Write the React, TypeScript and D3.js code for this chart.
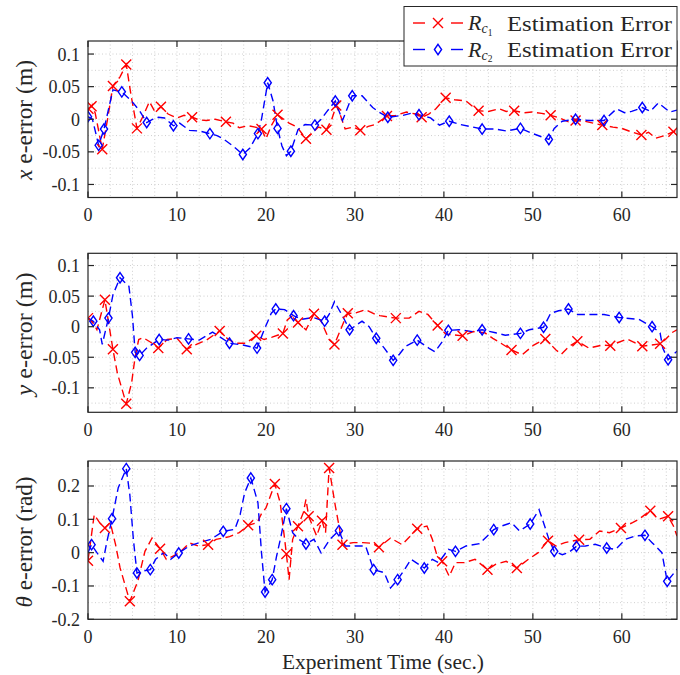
import React from 'react';
import * as d3 from 'd3';

type Pt = [number, number, number]; // [time, value, markerFlag]

// ---------- x e-error (m) ----------
const xErrRc1: Pt[] = [
  [0, 0.012, 0], [0.05, 0.016, 1], [0.4, 0.02, 1], [0.8, 0.01, 0], [1.6, -0.046, 1], [2.2, 0.0, 0], [2.8, 0.051, 1],
  [3.6, 0.065, 0], [4.3, 0.084, 1], [4.8, 0.04, 0], [5.5, -0.014, 1], [6.2, 0.005, 0], [6.9, 0.027, 0], [7.5, 0.012, 0],
  [8.2, 0.019, 1], [9.0, 0.008, 0], [10.0, 0.002, 0], [10.8, 0.006, 0], [11.7, 0.003, 1], [12.5, -0.001, 0],
  [13.3, -0.002, 0], [14.3, 0.0, 0], [15.5, -0.004, 1], [16.3, -0.006, 0], [17.0, -0.013, 0], [18.0, -0.01, 0],
  [18.8, -0.012, 0], [19.5, -0.015, 1], [20.0, -0.03, 0], [20.6, -0.01, 0], [21.3, 0.007, 1], [22.0, 0.0, 0],
  [22.6, -0.006, 0], [23.5, -0.012, 0], [24.5, -0.03, 1], [25.3, -0.02, 0], [25.9, -0.012, 0], [26.8, -0.016, 1],
  [27.4, 0.0, 0], [27.9, 0.021, 1], [28.4, 0.005, 0], [28.9, -0.015, 0], [29.8, -0.012, 0], [30.6, -0.017, 1],
  [31.5, -0.011, 0], [32.3, -0.008, 0], [33.6, 0.005, 1], [34.6, 0.006, 0], [35.8, 0.011, 0], [36.8, 0.008, 0],
  [37.5, 0.003, 1], [38.3, 0.008, 0], [39.1, 0.016, 0], [40.2, 0.033, 1], [41.2, 0.03, 0], [42.5, 0.028, 0],
  [43.2, 0.02, 0], [43.9, 0.013, 1], [45.0, 0.012, 0], [46.2, 0.016, 0], [47.0, 0.012, 0], [47.9, 0.013, 1],
  [49.0, 0.01, 0], [49.9, 0.011, 0], [51.0, 0.009, 0], [52.0, 0.006, 1], [53.0, 0.002, 0], [54.0, -0.004, 0],
  [54.8, -0.002, 1], [55.8, -0.003, 0], [56.8, -0.006, 0], [57.8, -0.009, 1], [59.0, -0.012, 0], [60.0, -0.014, 0],
  [61.2, -0.02, 0], [62.2, -0.024, 1], [63.0, -0.02, 0], [63.8, -0.029, 0], [64.8, -0.025, 0], [65.8, -0.019, 1],
  [66.2, -0.018, 0],
];
const xErrRc2: Pt[] = [
  [0, 0.004, 1], [0.5, 0.0, 0], [1.2, -0.04, 1], [1.8, -0.015, 1], [2.8, 0.045, 0], [3.8, 0.042, 1], [4.9, 0.028, 0],
  [5.8, 0.013, 0], [6.6, -0.005, 1], [7.3, 0.0, 0], [7.9, 0.003, 0], [8.6, 0.002, 0], [9.6, -0.01, 1], [10.3, -0.006, 0],
  [11.4, -0.017, 0], [12.5, -0.018, 0], [13.7, -0.022, 1], [14.5, -0.025, 0], [15.2, -0.03, 0], [16.3, -0.041, 0],
  [17.4, -0.054, 1], [18.2, -0.044, 0], [19.1, -0.022, 1], [19.5, 0.0, 0], [20.2, 0.056, 1], [20.8, 0.028, 0],
  [21.3, -0.014, 1], [21.8, -0.041, 0], [22.3, -0.056, 0], [22.8, -0.049, 1], [23.6, -0.016, 0], [24.4, -0.008, 0],
  [25.5, -0.009, 1], [26.2, 0.0, 0], [26.8, 0.011, 0], [27.8, 0.028, 1], [28.6, -0.002, 0], [29.7, 0.036, 1],
  [30.8, 0.036, 0], [31.6, 0.024, 0], [32.0, 0.018, 0], [32.7, 0.011, 0], [33.7, 0.003, 1], [35.4, 0.006, 0],
  [36.3, 0.009, 0], [37.2, 0.007, 1], [38.5, 0.002, 0], [39.5, -0.009, 0], [40.6, -0.003, 1], [41.8, -0.008, 0],
  [42.9, -0.011, 0], [44.3, -0.015, 1], [45.8, -0.015, 0], [47.0, -0.018, 0], [48.6, -0.014, 1], [50.0, -0.022, 0],
  [51.8, -0.031, 1], [52.4, -0.014, 0], [53.3, -0.003, 0], [54.8, 0.0, 1], [56.3, -0.002, 0], [58.0, -0.002, 1],
  [59.4, 0.016, 0], [60.3, 0.01, 0], [61.1, 0.012, 0], [62.3, 0.018, 1], [63.2, 0.012, 0], [64.1, 0.025, 0],
  [65.4, 0.011, 0], [66.2, 0.014, 0],
];

// ---------- y e-error (m) ----------
const yErrRc1: Pt[] = [
  [0, 0.014, 1], [0.5, 0.008, 0], [1.0, -0.005, 0], [1.9, 0.044, 1], [2.8, -0.037, 1], [3.3, -0.076, 0],
  [4.3, -0.126, 1], [4.9, -0.092, 0], [5.3, -0.049, 0], [5.7, -0.021, 0], [6.2, -0.018, 0], [7.0, -0.025, 0],
  [7.9, -0.035, 1], [8.9, -0.021, 0], [10.0, -0.019, 0], [11.1, -0.037, 1], [12.0, -0.03, 0], [13.3, -0.022, 0],
  [14.8, -0.007, 1], [15.7, -0.02, 0], [16.6, -0.027, 0], [17.7, -0.027, 0], [18.9, -0.015, 1], [19.8, -0.021, 0],
  [20.7, -0.017, 0], [21.9, -0.011, 1], [22.4, 0.011, 0], [23.0, 0.018, 0], [23.6, 0.007, 1], [24.5, -0.005, 0],
  [25.4, 0.021, 1], [26.2, 0.009, 0], [27.1, -0.021, 0], [27.7, -0.029, 1], [28.7, 0.006, 0], [29.2, 0.022, 1],
  [30.0, 0.022, 0], [31.2, 0.028, 0], [32.3, 0.02, 0], [32.8, 0.018, 0], [34.6, 0.014, 1], [36.1, 0.014, 0],
  [37.2, 0.025, 0], [38.2, 0.02, 0], [39.3, 0.002, 1], [40.2, -0.012, 0], [42.1, -0.015, 1], [43.3, -0.008, 0],
  [44.6, -0.01, 0], [45.5, -0.019, 0], [46.4, -0.027, 0], [47.6, -0.038, 1], [48.8, -0.046, 0], [50.1, -0.03, 0],
  [51.4, -0.02, 1], [52.6, -0.038, 0], [53.2, -0.045, 0], [54.1, -0.032, 0], [55.0, -0.024, 1], [56.3, -0.035, 0],
  [57.8, -0.03, 0], [58.7, -0.031, 1], [60.6, -0.02, 0], [62.3, -0.032, 1], [63.3, -0.03, 0], [64.3, -0.028, 1],
  [64.9, -0.021, 0], [65.6, -0.01, 0], [66.2, -0.005, 0],
];
const yErrRc2: Pt[] = [
  [0, 0.014, 0], [0.6, 0.009, 1], [1.3, -0.005, 0], [1.6, -0.029, 0], [2.3, 0.014, 1], [2.8, 0.052, 0],
  [3.6, 0.08, 1], [4.6, 0.066, 0], [5.0, 0.017, 0], [5.3, -0.042, 1], [5.8, -0.047, 1], [6.6, -0.035, 0],
  [8.0, -0.021, 1], [9.0, -0.022, 0], [10.0, -0.018, 0], [11.3, -0.02, 1], [12.5, -0.022, 0], [14.0, -0.009, 0],
  [15.9, -0.027, 1], [17.4, -0.03, 0], [19.0, -0.035, 1], [19.8, -0.005, 0], [20.6, 0.022, 0], [21.1, 0.029, 1],
  [22.1, 0.028, 0], [23.1, 0.018, 1], [24.0, 0.012, 0], [25.3, 0.015, 0], [26.6, 0.009, 1], [27.1, 0.02, 0],
  [27.7, 0.041, 0], [28.7, 0.015, 0], [29.4, -0.005, 1], [30.8, 0.009, 0], [31.6, 0.0, 0], [32.4, -0.019, 1],
  [33.3, -0.035, 0], [34.3, -0.055, 1], [35.0, -0.045, 0], [35.7, -0.032, 0], [37.0, -0.022, 1], [38.3, -0.035, 0],
  [39.0, -0.041, 0], [39.8, -0.025, 0], [40.5, -0.006, 1], [41.7, -0.005, 0], [43.2, -0.008, 0], [44.3, -0.005, 1],
  [45.8, -0.01, 0], [46.9, -0.014, 0], [48.6, -0.011, 1], [49.6, -0.005, 0], [51.2, -0.001, 1], [52.0, 0.022, 0],
  [52.9, 0.026, 0], [54.0, 0.029, 1], [55.0, 0.02, 0], [56.7, 0.02, 0], [58.0, 0.02, 0], [59.7, 0.015, 1],
  [61.9, 0.012, 0], [63.4, 0.0, 1], [64.3, -0.01, 0], [64.6, -0.035, 0], [65.2, -0.054, 1], [66.2, -0.04, 0],
];

// ---------- theta e-error (rad) ----------
const thErrRc1: Pt[] = [
  [0, -0.024, 1], [0.7, 0.114, 0], [1.3, 0.09, 0], [1.9, 0.074, 1], [2.5, 0.09, 0], [3.1, 0.024, 0], [3.6, -0.045, 0],
  [4.7, -0.146, 1], [5.6, -0.086, 0], [6.4, 0.004, 0], [7.2, 0.044, 0], [8.1, 0.012, 1], [8.8, -0.02, 0],
  [9.6, -0.01, 0], [10.3, 0.0, 0], [11.4, 0.029, 0], [12.4, 0.02, 0], [13.5, 0.024, 1], [14.4, 0.04, 0],
  [15.9, 0.048, 0], [17.0, 0.06, 0], [18.0, 0.082, 1], [19.0, 0.09, 0], [19.5, 0.117, 0], [20.0, 0.134, 0],
  [21.0, 0.206, 1], [21.6, 0.15, 0], [22.3, -0.004, 1], [22.6, -0.081, 0], [23.0, 0.04, 0], [23.6, 0.079, 1],
  [24.2, 0.12, 0], [24.5, 0.16, 0], [24.8, 0.109, 1], [25.7, 0.05, 0], [26.3, 0.096, 1], [26.7, 0.06, 0],
  [27.1, 0.254, 1], [27.8, 0.14, 0], [28.6, 0.024, 1], [29.8, 0.03, 0], [30.9, 0.03, 0], [32.0, 0.028, 0],
  [32.7, 0.016, 1], [34.0, 0.044, 0], [35.3, 0.024, 0], [37.0, 0.072, 1], [38.1, 0.08, 0], [38.7, 0.04, 0],
  [39.2, -0.006, 0], [39.8, -0.026, 1], [40.6, -0.071, 0], [41.3, -0.03, 0], [42.3, -0.03, 0], [43.5, -0.02, 0],
  [44.9, -0.051, 1], [45.8, -0.035, 0], [47.0, -0.026, 0], [48.2, -0.046, 1], [49.5, -0.02, 0], [50.6, 0.0, 0],
  [51.7, 0.036, 1], [52.6, 0.02, 0], [53.6, 0.03, 0], [55.2, 0.039, 1], [56.4, 0.04, 0], [57.5, 0.065, 0],
  [58.6, 0.06, 0], [59.9, 0.074, 1], [61.2, 0.09, 0], [61.9, 0.1, 0], [63.2, 0.126, 1], [64.1, 0.1, 0],
  [65.2, 0.109, 1], [65.8, 0.08, 0], [66.2, 0.05, 0],
];
const thErrRc2: Pt[] = [
  [0, 0.0, 0], [0.4, 0.024, 1], [1.0, 0.0, 0], [1.7, -0.026, 0], [2.1, 0.03, 0], [2.7, 0.102, 1], [3.4, 0.195, 0],
  [4.3, 0.252, 1], [4.7, 0.174, 0], [5.1, 0.04, 0], [5.5, -0.061, 1], [6.2, -0.055, 0], [7.0, -0.051, 1],
  [7.6, -0.02, 0], [8.5, 0.0, 0], [9.3, -0.02, 0], [10.2, -0.001, 1], [11.4, 0.02, 0], [12.5, 0.03, 0],
  [13.8, 0.04, 0], [15.2, 0.064, 1], [16.5, 0.07, 0], [17.1, 0.114, 0], [17.6, 0.179, 0], [18.3, 0.224, 1],
  [19.1, 0.15, 0], [19.5, 0.0, 0], [19.9, -0.118, 1], [20.7, -0.081, 1], [21.2, -0.01, 0], [21.7, 0.05, 0],
  [22.3, 0.132, 1], [23.0, 0.06, 0], [23.7, 0.04, 0], [24.5, 0.026, 1], [25.4, 0.04, 0], [26.2, -0.001, 0],
  [27.2, 0.04, 0], [28.2, 0.066, 1], [28.9, 0.02, 0], [30.0, 0.02, 0], [31.2, 0.02, 0], [32.1, -0.051, 1],
  [33.3, -0.06, 0], [34.0, -0.106, 0], [34.8, -0.081, 1], [35.6, -0.05, 0], [36.3, -0.02, 0], [37.8, -0.046, 1],
  [38.7, -0.02, 0], [39.4, -0.03, 0], [40.5, 0.01, 0], [41.3, 0.004, 1], [42.5, 0.02, 0], [44.0, 0.027, 0],
  [45.6, 0.069, 1], [46.5, 0.08, 0], [47.6, 0.09, 0], [48.5, 0.065, 0], [49.7, 0.086, 1], [50.7, 0.129, 0],
  [51.2, 0.09, 0], [51.8, 0.04, 0], [52.4, 0.004, 1], [53.3, -0.006, 0], [54.0, 0.0, 0], [54.9, 0.019, 1],
  [55.9, 0.02, 0], [57.0, 0.025, 0], [58.3, 0.014, 1], [59.3, 0.01, 0], [60.4, 0.04, 0], [61.5, 0.05, 0],
  [62.6, 0.052, 1], [63.4, 0.03, 0], [64.5, 0.0, 0], [65.1, -0.086, 1], [66.2, -0.05, 0],
];

// ---------- ticks / labels ----------
const timeTicks = [0, 10, 20, 30, 40, 50, 60];
const posTicks = [-0.1, -0.05, 0, 0.05, 0.1];
const angTicks = [-0.2, -0.1, 0, 0.1, 0.2];
const seriesNames = ['R', 'R'];
const seriesSubs = ['1', '2'];
const legendText = 'Estimation Error';
const xAxisTitle = 'Experiment Time (sec.)';

const FONT = 'Liberation Serif';
const RED = '#ff0000';
const BLUE = '#0000ff';
const AXC = '#262626';
const GRID = '#c4c4c4';
const X0 = 88;
const X1 = 677;

const x = d3.scaleLinear().domain([0, 66.2]).range([X0, X1]);

const panels = [
  { top: 41, bottom: 197.5, domain: [-0.12, 0.12], ticks: posTicks, minor: 0.025, red: xErrRc1, blue: xErrRc2,
    sym: 'x', unit: '(m)', labLen: 120, labMid: 120 },
  { top: 253.3, bottom: 412.3, domain: [-0.14, 0.12], ticks: posTicks, minor: 0.025, red: yErrRc1, blue: yErrRc2,
    sym: 'y', unit: '(m)', labLen: 123, labMid: 334 },
  { top: 461, bottom: 619.3, domain: [-0.2, 0.275], ticks: angTicks, minor: 0.05, red: thErrRc1, blue: thErrRc2,
    sym: 'θ', unit: '(rad)', labLen: 131, labMid: 542 },
];

function XMark({ cx, cy, color }: { cx: number; cy: number; color: string }) {
  const s = 5;
  return (
    <path d={`M${cx - s},${cy - s}L${cx + s},${cy + s}M${cx - s},${cy + s}L${cx + s},${cy - s}`}
      stroke={color} strokeWidth={1.4} fill="none" />
  );
}
function DMark({ cx, cy, color }: { cx: number; cy: number; color: string }) {
  const w = 3.6, h = 5.2;
  return (
    <path d={`M${cx},${cy - h}L${cx + w},${cy}L${cx},${cy + h}L${cx - w},${cy}Z`}
      stroke={color} strokeWidth={1.4} fill="none" />
  );
}

function Panel({ p, idx }: { p: typeof panels[number]; idx: number }) {
  const y = d3.scaleLinear().domain(p.domain).range([p.bottom, p.top]);
  const line = d3.line<Pt>().x(d => x(d[0])).y(d => y(d[1]));
  const minorY: number[] = [];
  for (let k = Math.ceil(p.domain[0] / p.minor); k * p.minor < p.domain[1] - 1e-9; k++) {
    const v = +(k * p.minor).toFixed(4);
    if (v > p.domain[0] + 1e-9) minorY.push(v);
  }
  const minorX: number[] = [];
  for (let t = 2.5; t < 66.2; t += 2.5) minorX.push(t);
  const clip = `clip${idx}`;
  return (
    <g>
      <defs>
        <clipPath id={clip}>
          <rect x={X0} y={p.top} width={X1 - X0} height={p.bottom - p.top} />
        </clipPath>
      </defs>
      <rect x={X0} y={p.top} width={X1 - X0} height={p.bottom - p.top} fill="#fff" />
      {minorX.map(t => (
        <line key={'gx' + t} x1={x(t)} x2={x(t)} y1={p.top} y2={p.bottom} stroke={GRID} strokeWidth={0.8} strokeDasharray="1,2.5" />
      ))}
      {minorY.map(v => (
        <line key={'gy' + v} x1={X0} x2={X1} y1={y(v)} y2={y(v)} stroke={GRID} strokeWidth={0.8} strokeDasharray="1,2.5" />
      ))}
      <g clipPath={`url(#${clip})`}>
        <path d={line(p.red) || ''} fill="none" stroke={RED} strokeWidth={1.4} strokeDasharray="8,4.5" />
        <path d={line(p.blue) || ''} fill="none" stroke={BLUE} strokeWidth={1.4} strokeDasharray="8,4.5" />
        {p.red.filter(d => d[2]).map((d, i) => <XMark key={'r' + i} cx={x(d[0])} cy={y(d[1])} color={RED} />)}
        {p.blue.filter(d => d[2]).map((d, i) => <DMark key={'b' + i} cx={x(d[0])} cy={y(d[1])} color={BLUE} />)}
      </g>
      <rect x={X0} y={p.top} width={X1 - X0} height={p.bottom - p.top} fill="none" stroke={AXC} strokeWidth={1.2} />
      {timeTicks.map(t => (
        <g key={'xt' + t}>
          <line x1={x(t)} x2={x(t)} y1={p.bottom} y2={p.bottom - 6} stroke={AXC} strokeWidth={1.2} />
          <line x1={x(t)} x2={x(t)} y1={p.top} y2={p.top + 6} stroke={AXC} strokeWidth={1.2} />
          <text x={x(t)} y={p.bottom + 23.5} textAnchor="middle" fontFamily={FONT} fontSize={18} fill={AXC}>{t}</text>
        </g>
      ))}
      {p.ticks.map(v => (
        <g key={'yt' + v}>
          <line x1={X0} x2={X0 + 6} y1={y(v)} y2={y(v)} stroke={AXC} strokeWidth={1.2} />
          <line x1={X1} x2={X1 - 6} y1={y(v)} y2={y(v)} stroke={AXC} strokeWidth={1.2} />
          <text x={80} y={y(v) + 6.5} textAnchor="end" fontFamily={FONT} fontSize={18} fill={AXC}>{String(v)}</text>
        </g>
      ))}
      <text transform={`translate(32,${p.labMid}) rotate(-90)`} textAnchor="middle" fontFamily={FONT} fontSize={23}
        fill={AXC} textLength={p.labLen} lengthAdjust="spacingAndGlyphs">
        <tspan fontStyle="italic">{p.sym}</tspan> e-error {p.unit}
      </text>
    </g>
  );
}

function Legend() {
  const rows = [
    { color: RED, yy: 23, sub: seriesSubs[0], mark: 'x' },
    { color: BLUE, yy: 49.5, sub: seriesSubs[1], mark: 'd' },
  ];
  return (
    <g>
      <rect x={404} y={6.5} width={273} height={59.5} fill="#fff" stroke={AXC} strokeWidth={1} />
      {rows.map((r, i) => (
        <g key={i}>
          <line x1={413} x2={425} y1={r.yy} y2={r.yy} stroke={r.color} strokeWidth={1.4} />
          <line x1={451} x2={463} y1={r.yy} y2={r.yy} stroke={r.color} strokeWidth={1.4} />
          {r.mark === 'x' ? <XMark cx={438} cy={r.yy} color={r.color} /> : <DMark cx={438} cy={r.yy} color={r.color} />}
          <text x={468} y={r.yy + 7} fontFamily={FONT} fontSize={22} fill={AXC}>
            <tspan fontStyle="italic">{seriesNames[i]}</tspan>
            <tspan fontStyle="italic" fontSize={14} dy={3}>c</tspan>
            <tspan fontSize={9.5} dy={2.5}>{r.sub}</tspan>
          </text>
          <text x={507} y={r.yy + 7.5} fontFamily={FONT} fontSize={22} fill={AXC} textLength={165}
            lengthAdjust="spacingAndGlyphs">{legendText}</text>
        </g>
      ))}
    </g>
  );
}

export default function App() {
  return (
    <svg width={680} height={675} viewBox="0 0 680 675"
      style={{ position: 'absolute', left: 0, top: 0, background: '#fff' }}>
      <rect width={680} height={675} fill="#fff" />
      {panels.map((p, i) => <Panel key={i} p={p} idx={i} />)}
      <text x={383} y={669} textAnchor="middle" fontFamily={FONT} fontSize={21} fill={AXC}
        textLength={202} lengthAdjust="spacingAndGlyphs">{xAxisTitle}</text>
      <Legend />
    </svg>
  );
}
